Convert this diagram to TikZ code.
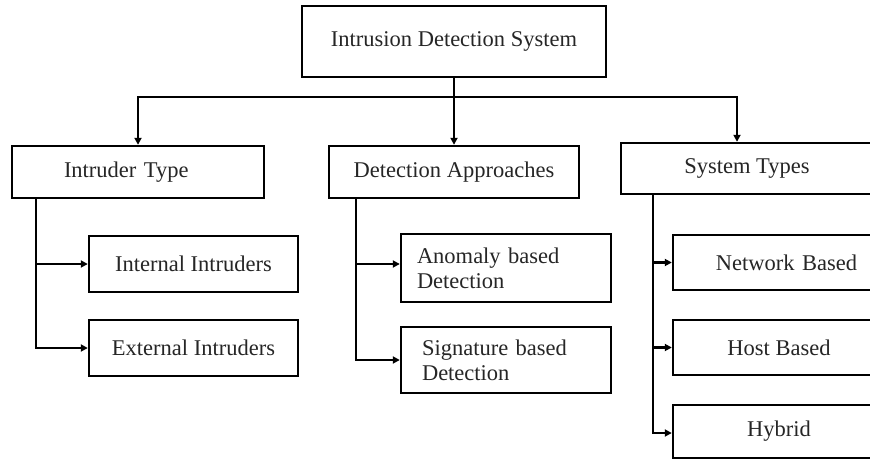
\documentclass[tikz,border=0pt]{standalone}
\usepackage{fontspec}
\setmainfont{Liberation Serif}
\usetikzlibrary{arrows.meta}
\tikzset{
  box/.style={draw=black, line width=2.4pt, rectangle, inner sep=0pt,
    font=\fontsize{22.5}{25}\selectfont, text=black!85},
  conn/.style={draw=black, line width=2.6pt},
  arr/.style={conn, -{Triangle[length=7pt,width=7pt]}},
}
\begin{document}
\begin{tikzpicture}[x=1pt,y=-1pt]
\useasboundingbox (0,0) rectangle (870,460);
\fill[white] (0,0) rectangle (870,460);
\clip (0,0) rectangle (870,460);

\node[box, minimum width=304pt, minimum height=71pt] (ids) at (454,41.5) {Intrusion Detection System};

\node[box, minimum width=252pt, minimum height=52pt, text width=148pt, align=left] (itype) at (138,172) {Intruder Type};
\node[box, minimum width=250pt, minimum height=52pt] (dapp) at (454,172) {Detection Approaches};
\node[box, minimum width=252pt, minimum height=51pt] (stype) at (747,168.5) {System Types};

\node[box, minimum width=209pt, minimum height=56pt] (int) at (193.5,264) {Internal Intruders};
\node[box, minimum width=209pt, minimum height=56pt] (ext) at (193.5,348) {External Intruders};

\node[box, minimum width=210pt, minimum height=68pt, text width=178pt, align=left] (anom) at (506,268) {Anomaly based\\Detection};
\node[box, minimum width=210pt, minimum height=66pt, text width=168pt, align=left] (sig) at (506,360) {Signature based\\Detection};

\node[box, minimum width=212pt, minimum height=55pt, text width=156pt, align=right] (net) at (779,262.5) {Network Based};
\node[box, minimum width=212pt, minimum height=55pt] (host) at (779,347.5) {Host Based};
\node[box, minimum width=212pt, minimum height=53pt] (hyb) at (779,431.5) {Hybrid};

% top level connectors
\coordinate (bus) at (454,97);
\draw[arr] (ids.south) -- (dapp.north);
\draw[arr] (bus) -| (itype.north);
\draw[arr] (bus) -| ([xshift=-10pt]stype.north);

% intruder type branch
\coordinate (il) at (36,198);
\draw[arr] (il) |- (int.west);
\draw[arr] (il) |- (ext.west);

% detection approaches branch
\coordinate (dl) at (356,198);
\draw[arr] (dl) |- ([yshift=4pt]anom.west);
\draw[arr] (dl) |- (sig.west);

% system types branch
\coordinate (sl) at (653,194);
\draw[arr] (sl) |- (net.west);
\draw[arr] (sl) |- (host.west);
\draw[arr] (sl) |- ([yshift=-1.5pt]hyb.west);
\end{tikzpicture}
\end{document}
